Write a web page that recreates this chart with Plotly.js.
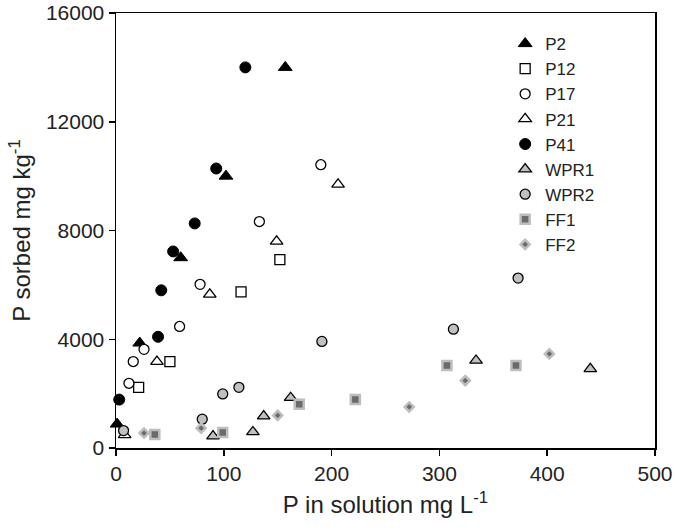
<!DOCTYPE html>
<html>
<head>
<meta charset="utf-8">
<script src="https://cdn.plot.ly/plotly-3.0.1.min.js"></script>
<style>html,body{margin:0;padding:0;background:#fff;}#chart{width:675px;height:532px;}</style>
</head>
<body>
<div id="chart"></div>
<script>
// Data (x: P in solution mg/L, y: P sorbed mg/kg)
const P2_x = [157, 102, 60, 22, 1];
const P2_y = [14000, 10000, 7000, 3860, 880];
const P12_x = [152, 116, 50, 21];
const P12_y = [6930, 5740, 3180, 2230];
const P17_x = [190, 133, 78, 59, 26, 16, 12];
const P17_y = [10420, 8330, 6020, 4470, 3630, 3180, 2380];
const P21_x = [206, 149, 87, 38, 8];
const P21_y = [9700, 7600, 5650, 3180, 480];
const P41_x = [120, 93, 73, 53, 42, 39, 3];
const P41_y = [14000, 10280, 8260, 7230, 5800, 4090, 1780];
const WPR1_x = [440, 334, 162, 137, 127, 90];
const WPR1_y = [2910, 3220, 1850, 1170, 590, 440];
const WPR2_x = [373, 313, 191, 114, 99, 80, 7];
const WPR2_y = [6250, 4370, 3920, 2230, 1990, 1060, 640];
const FF1_x = [371, 307, 222, 170, 99, 36];
const FF1_y = [3030, 3030, 1780, 1610, 570, 500];
const FF2_x = [402, 324, 272, 150, 79, 26];
const FF2_y = [3460, 2480, 1510, 1200, 730, 550];
const xTicks = [0, 100, 200, 300, 400, 500];
const yTicks = [0, 4000, 8000, 12000, 16000];

const FONT = 'Liberation Sans, Arial, sans-serif';
function tr(name, x, y, marker) {
  return {type: 'scatter', mode: 'markers', name: name, x: x, y: y, marker: marker, cliponaxis: false};
}
const data = [
  tr('P2', P2_x, P2_y, {symbol: 'triangle-up', size: 12, color: '#000', line: {color: '#000', width: 1}}),
  tr('P12', P12_x, P12_y, {symbol: 'square', size: 10, color: '#fff', line: {color: '#000', width: 1.3}}),
  tr('P17', P17_x, P17_y, {symbol: 'circle', size: 10, color: '#fff', line: {color: '#000', width: 1.3}}),
  tr('P21', P21_x, P21_y, {symbol: 'triangle-up', size: 11, color: '#fff', line: {color: '#000', width: 1.3}}),
  tr('P41', P41_x, P41_y, {symbol: 'circle', size: 11, color: '#000', line: {color: '#000', width: 1}}),
  tr('WPR1', WPR1_x, WPR1_y, {symbol: 'triangle-up', size: 11, color: '#c0c0c0', line: {color: '#000', width: 1.3}}),
  tr('WPR2', WPR2_x, WPR2_y, {symbol: 'circle', size: 10, color: '#c0c0c0', line: {color: '#000', width: 1.3}}),
  tr('FF1', FF1_x, FF1_y, {symbol: 'square', size: 9, color: '#6a6a6a', line: {color: '#bdbdbd', width: 2.5}}),
  tr('FF2', FF2_x, FF2_y, {symbol: 'diamond', size: 7, color: '#6a6a6a', line: {color: '#bdbdbd', width: 2.5}})
];

const layout = {
  width: 675, height: 532,
  margin: {l: 116, r: 20, t: 13, b: 84},
  paper_bgcolor: '#fff', plot_bgcolor: '#fff',
  font: {family: FONT, size: 21, color: '#222'},
  showlegend: true,
  legend: {x: 0.722, y: 0.97, xanchor: 'left', yanchor: 'top', bgcolor: 'rgba(0,0,0,0)',
           font: {family: FONT, size: 17, color: '#222'}},
  xaxis: {
    range: [0, 500], tickvals: xTicks, ticktext: xTicks.map(String),
    showgrid: false, zeroline: false, showline: true, linecolor: '#000', linewidth: 1.5, mirror: true,
    ticks: 'outside', ticklen: 6, tickwidth: 1.5, tickcolor: '#000', ticklabeloverflow: 'allow',
    tickfont: {family: FONT, size: 21, color: '#222'},
    title: {text: 'P in solution mg L<sup>-1</sup>', font: {family: FONT, size: 24, color: '#222'}, standoff: 12}
  },
  yaxis: {
    range: [0, 16000], tickvals: yTicks, ticktext: yTicks.map(String),
    showgrid: false, zeroline: false, showline: true, linecolor: '#000', linewidth: 1.5, mirror: true,
    ticks: 'outside', ticklen: 6, tickwidth: 1.5, tickcolor: '#000', ticklabeloverflow: 'allow',
    tickfont: {family: FONT, size: 21, color: '#222'},
    title: {text: 'P sorbed mg kg<sup>-1</sup>', font: {family: FONT, size: 24, color: '#222'}, standoff: 8}
  }
};
Plotly.newPlot('chart', data, layout, {displayModeBar: false, staticPlot: true});
</script>
</body>
</html>
